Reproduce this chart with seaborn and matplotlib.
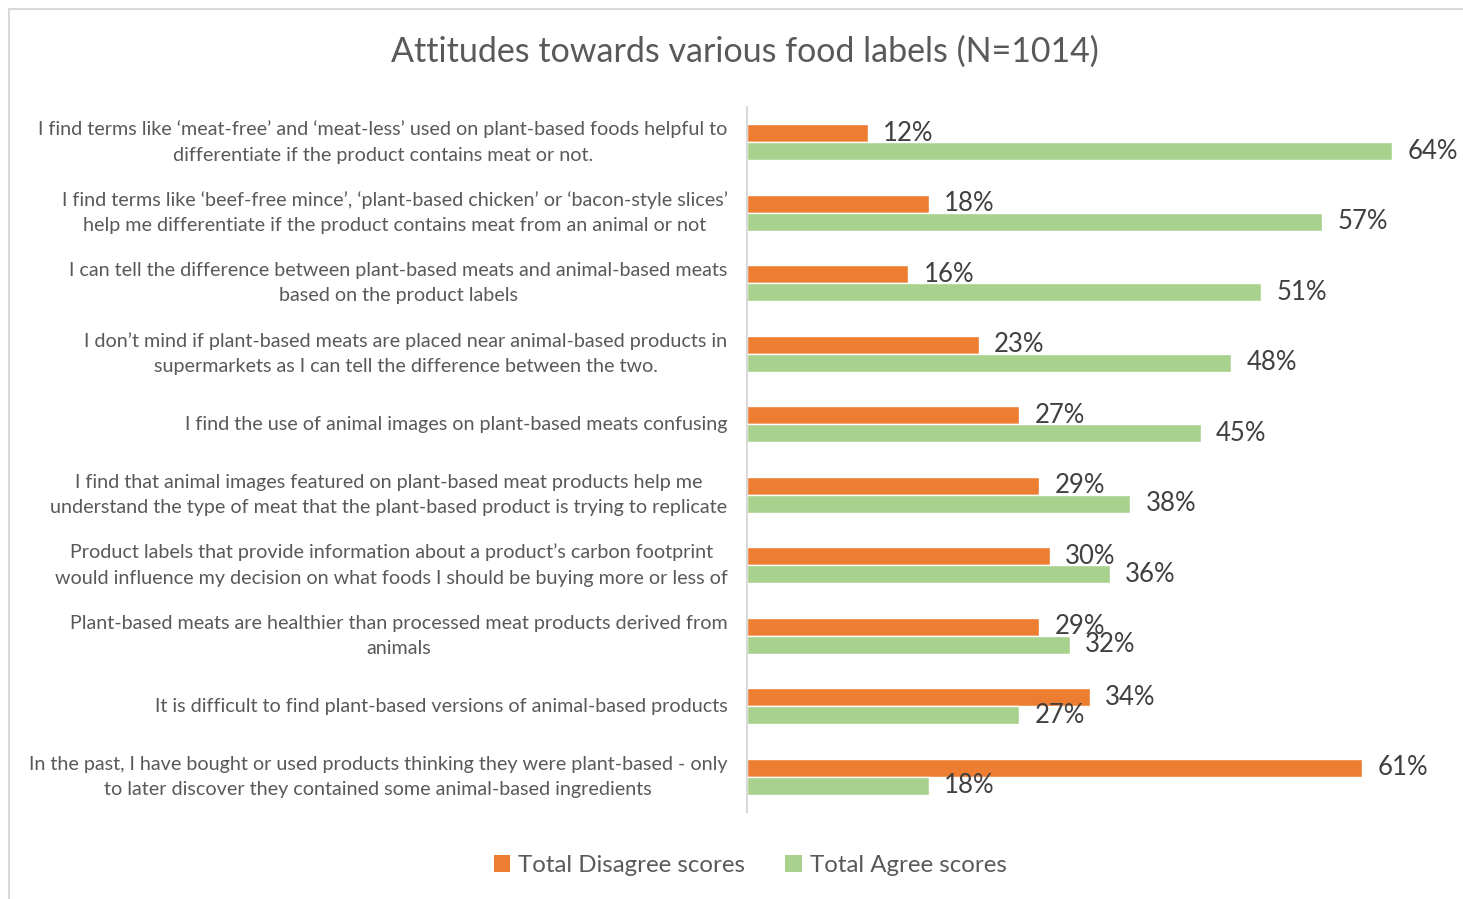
import matplotlib
matplotlib.use("Agg")
import matplotlib.pyplot as plt
from matplotlib.patches import Rectangle, Patch
import seaborn as sns
import pandas as pd

statements = [
    "I find terms like \u2018meat-free\u2019 and \u2018meat-less\u2019 used on plant-based foods helpful to\ndifferentiate if the product contains meat or not.",
    "I find terms like \u2018beef-free mince\u2019, \u2018plant-based chicken\u2019 or \u2018bacon-style slices\u2019\nhelp me differentiate if the product contains meat from an animal or not",
    "I can tell the difference between plant-based meats and animal-based meats\nbased on the product labels",
    "I don\u2019t mind if plant-based meats are placed near animal-based products in\nsupermarkets as I can tell the difference between the two.",
    "I find the use of animal images on plant-based meats confusing",
    "I find that animal images featured on plant-based meat products help me\nunderstand the type of meat that the plant-based product is trying to replicate",
    "Product labels that provide information about a product\u2019s carbon footprint\nwould influence my decision on what foods I should be buying more or less of",
    "Plant-based meats are healthier than processed meat products derived from\nanimals",
    "It is difficult to find plant-based versions of animal-based products",
    "In the past, I have bought or used products thinking they were plant-based - only\nto later discover they contained some animal-based ingredients",
]
disagree = [12, 18, 16, 23, 27, 29, 30, 29, 34, 61]
agree = [64, 57, 51, 48, 45, 38, 36, 32, 27, 18]
series_names = ["Total Disagree scores", "Total Agree scores"]
colors = ["#ED7D31", "#A9D18E"]

df = pd.DataFrame({
    "statement": statements * 2,
    "value": disagree + agree,
    "series": [series_names[0]] * len(statements) + [series_names[1]] * len(statements),
})

sns.set_theme(style="white")
plt.rcParams["font.family"] = ["Lato", "DejaVu Sans"]
text_col = "#595959"

fig = plt.figure(figsize=(14.63, 8.99), dpi=100)
ax = fig.add_axes([747 / 1463, 1 - 812 / 899, 706 / 1463, (812 - 107) / 899])

sns.barplot(data=df, y="statement", x="value", hue="series", order=statements,
            hue_order=series_names, palette=colors, width=0.51, orient="h",
            saturation=1, ax=ax, legend=False)

ax.set_xlim(0, 70)
ax.set_ylim(len(statements) - 0.5, -0.5)
ax.set_xlabel("")
ax.set_ylabel("")
ax.set_xticks([])
for s in ["top", "right", "bottom"]:
    ax.spines[s].set_visible(False)
ax.spines["left"].set_color("#D9D9D9")
ax.spines["left"].set_linewidth(1.5)
ax.tick_params(axis="y", length=0, pad=14, labelsize=14.2, labelcolor=text_col)
for lbl in ax.get_yticklabels():
    lbl.set_multialignment("center")
    lbl.set_linespacing(1.6)
    lbl.set_verticalalignment("center")

for cont in ax.containers:
    vals = [p.get_width() for p in cont]
    ax.bar_label(cont, labels=[f"{v:.0f}%" for v in vals], padding=11,
                 fontsize=18.5, color="#404040")

fig.text(745 / 1463, 1 - 52 / 899, "Attitudes towards various food labels (N=1014)",
         ha="center", va="center", fontsize=24.5, color=text_col)

handles = [Patch(facecolor=c, edgecolor="none") for c in colors]
fig.legend(handles, series_names, loc="center", ncol=2,
           bbox_to_anchor=(750 / 1463, 1 - 865 / 899), frameon=False,
           fontsize=17.3, labelcolor=text_col, handlelength=0.7, handleheight=0.7,
           handletextpad=0.3, columnspacing=1.7)

fig.patches.append(Rectangle((9 / 1463, -0.05), 1.1, 1 - 9 / 899 + 0.05,
                             transform=fig.transFigure, fill=False,
                             edgecolor="#D9D9D9", linewidth=1.5))

fig.savefig("out.png", dpi=100)
